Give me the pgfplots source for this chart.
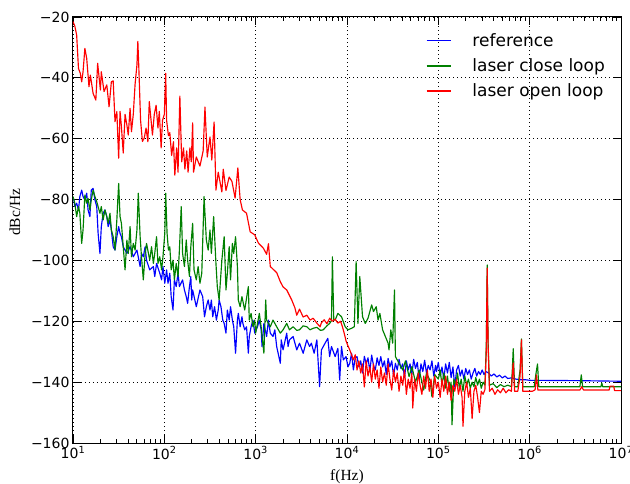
\documentclass[border=0pt]{standalone}
\usepackage{fontspec}
\usepackage{pgfplots}
\pgfplotsset{compat=1.18}
\newfontfamily\dejavu{DejaVu Sans}
\newfontfamily\libserif{Liberation Serif}
\pgfplotsset{
  short line legend/.style={
    legend image code/.code={\draw[line width=1.5pt,##1] (0pt,0pt) -- (24pt,0pt);}},
}

\begin{document}
\begin{tikzpicture}
\begin{axis}[
  scale only axis, width=548pt, height=426pt,
  xmin=1, xmax=7, ymin=-160, ymax=-20,
  xtick={1,2,3,4,5,6,7},
  xticklabels={10\textsuperscript{1},10\textsuperscript{2},10\textsuperscript{3},10\textsuperscript{4},10\textsuperscript{5},10\textsuperscript{6},10\textsuperscript{7}},
  minor xtick={1.301,1.477,1.602,1.699,1.778,1.845,1.903,1.954,
               2.301,2.477,2.602,2.699,2.778,2.845,2.903,2.954,
               3.301,3.477,3.602,3.699,3.778,3.845,3.903,3.954,
               4.301,4.477,4.602,4.699,4.778,4.845,4.903,4.954,
               5.301,5.477,5.602,5.699,5.778,5.845,5.903,5.954,
               6.301,6.477,6.602,6.699,6.778,6.845,6.903,6.954},
  ytick={-160,-140,-120,-100,-80,-60,-40,-20},
  yticklabels={−160,−140,−120,−100,−80,−60,−40,−20},
  tick align=inside,
  major tick length=8pt, minor tick length=4pt,
  every tick/.style={black, line width=0.8pt},
  grid=major,
  major grid style={black, line width=0.8pt, dash pattern=on 1pt off 3pt},
  axis line style={line width=1pt},
  tick label style={font=\dejavu\fontsize{14}{16}\selectfont},
  xlabel={f(Hz)}, ylabel={dBc/Hz},
  label style={font=\libserif\fontsize{15.5}{18}\selectfont},
  xlabel style={at={(axis description cs:0.5,-0.087)}, anchor=base},
  ylabel style={at={(axis description cs:-0.106,0.542)}, anchor=center},
  short line legend,
  legend style={draw=none, fill=none, at={(0.98,0.972)}, anchor=north east,
    font=\dejavu\fontsize{17}{20}\selectfont, legend cell align=left,
    row sep=7pt},
  /tikz/every odd column/.append style={column sep=19pt},
  every axis plot/.append style={line width=1.15pt, line join=round},
]
\addplot[color=blue] coordinates {
(1.00,-79.5)(1.01,-80.1)(1.02,-82.3)(1.04,-81.2)(1.06,-83.4)(1.075,-79.0)(1.095,-76.9)(1.11,-79.0)(1.13,-80.1)(1.15,-77.9)
(1.165,-83.4)(1.185,-85.6)(1.20,-76.9)(1.22,-76.3)(1.24,-80.1)(1.26,-82.3)(1.275,-91.1)(1.295,-97.7)(1.31,-88.9)(1.33,-84.5)
(1.35,-83.4)(1.37,-85.6)(1.385,-88.9)(1.405,-86.7)(1.42,-90.0)(1.44,-95.5)(1.46,-96.6)(1.48,-92.2)(1.50,-88.9)(1.515,-91.1)
(1.53,-92.2)(1.55,-95.5)(1.57,-96.6)(1.59,-97.7)(1.625,-95.5)(1.66,-98.8)(1.70,-96.6)(1.735,-102.0)(1.75,-97.7)(1.77,-98.8)
(1.79,-95.5)(1.805,-99.9)(1.84,-103.1)(1.88,-102.0)(1.895,-105.3)(1.915,-101.0)(1.95,-104.2)(1.97,-106.4)(1.985,-102.0)(2.005,-107.5)
(2.025,-103.1)(2.04,-107.5)(2.06,-104.2)(2.075,-111.9)(2.095,-116.3)(2.11,-106.4)(2.13,-108.6)(2.15,-104.2)(2.165,-108.6)(2.20,-106.4)
(2.22,-109.7)(2.24,-111.9)(2.255,-114.1)(2.275,-108.6)(2.29,-105.3)(2.30,-113.0)(2.31,-109.7)(2.35,-115.2)(2.39,-109.7)(2.42,-111.9)
(2.44,-118.5)(2.46,-115.2)(2.48,-113.0)(2.50,-116.3)(2.515,-113.0)(2.53,-118.5)(2.55,-115.2)(2.57,-119.6)(2.59,-116.3)(2.60,-113.0)
(2.62,-115.2)(2.64,-119.6)(2.655,-120.7)(2.675,-123.9)(2.69,-116.3)(2.71,-119.6)(2.725,-115.2)(2.745,-119.6)(2.76,-121.8)(2.78,-130.5)
(2.80,-119.6)(2.81,-117.4)(2.83,-121.8)(2.85,-118.5)(2.86,-120.7)(2.88,-122.8)(2.90,-121.8)(2.92,-130.5)(2.93,-125.0)(2.95,-121.8)
(2.97,-119.6)(2.99,-123.9)(3.02,-121.8)(3.04,-119.6)(3.06,-122.8)(3.07,-128.3)(3.09,-120.7)(3.12,-125.0)(3.14,-119.6)(3.16,-123.9)
(3.19,-125.0)(3.21,-122.8)(3.23,-128.3)(3.27,-133.8)(3.28,-126.1)(3.30,-129.4)(3.34,-123.9)(3.355,-128.3)(3.37,-126.1)(3.41,-125.0)
(3.45,-129.4)(3.48,-127.2)(3.52,-130.5)(3.56,-126.1)(3.59,-128.3)(3.61,-127.2)(3.64,-130.5)(3.67,-126.1)(3.70,-141.5)(3.72,-129.4)
(3.76,-127.2)(3.79,-125.6)(3.81,-131.6)(3.83,-128.3)(3.87,-131.6)(3.90,-128.9)(3.92,-139.3)(3.94,-128.3)(3.96,-132.7)(3.99,-131.6)
(4.01,-135.0)(4.03,-133.8)(4.05,-130.5)(4.07,-136.0)(4.09,-132.0)(4.11,-131.6)(4.13,-135.0)(4.15,-133.0)(4.17,-137.0)(4.19,-131.5)
(4.21,-134.0)(4.23,-132.0)(4.25,-136.5)(4.27,-131.1)(4.29,-134.5)(4.31,-136.0)(4.33,-132.0)(4.35,-134.5)(4.37,-131.6)(4.39,-135.0)
(4.41,-133.0)(4.43,-137.5)(4.45,-132.2)(4.47,-135.0)(4.49,-133.0)(4.51,-138.0)(4.53,-133.8)(4.55,-136.0)(4.57,-132.5)(4.59,-135.5)
(4.61,-134.0)(4.63,-138.5)(4.65,-133.0)(4.67,-136.0)(4.69,-134.0)(4.71,-137.5)(4.73,-132.5)(4.75,-135.5)(4.77,-133.5)(4.79,-139.0)
(4.81,-134.0)(4.83,-136.5)(4.85,-132.8)(4.87,-137.0)(4.89,-134.5)(4.91,-136.0)(4.93,-133.0)(4.95,-138.0)(4.97,-134.5)(4.98,-136.5)
(5.00,-133.5)(5.02,-138.0)(5.04,-135.0)(5.06,-139.0)(5.08,-134.0)(5.10,-137.0)(5.12,-133.5)(5.14,-138.5)(5.16,-135.0)(5.18,-141.6)
(5.20,-136.0)(5.22,-134.5)(5.24,-138.0)(5.26,-136.0)(5.28,-139.0)(5.30,-135.5)(5.32,-137.5)(5.34,-136.0)(5.36,-139.0)(5.38,-137.0)
(5.40,-135.5)(5.42,-138.0)(5.44,-136.5)(5.46,-137.5)(5.48,-136.0)(5.50,-137.5)(5.52,-136.5)(5.55,-137.0)(5.58,-138.0)(5.61,-137.3)
(5.64,-138.3)(5.67,-137.7)(5.70,-138.6)(5.73,-138.0)(5.76,-138.8)(5.80,-138.6)(5.85,-139.0)(5.90,-139.2)(5.95,-139.2)(6.00,-139.4)
(6.50,-139.5)(7.00,-139.7)
};
\addlegendentry{reference}
\addplot[color={rgb,1:red,0;green,0.5;blue,0}] coordinates {
(1.00,-79.0)(1.02,-81.2)(1.04,-85.6)(1.06,-82.3)(1.075,-84.5)(1.095,-94.4)(1.11,-90.0)(1.13,-78.5)(1.15,-81.2)(1.165,-79.6)
(1.185,-83.4)(1.20,-80.1)(1.22,-76.9)(1.24,-79.0)(1.26,-80.7)(1.295,-84.5)(1.31,-82.3)(1.33,-86.7)(1.35,-83.4)(1.37,-85.6)
(1.385,-87.8)(1.405,-84.5)(1.42,-90.0)(1.44,-92.2)(1.46,-96.6)(1.48,-86.7)(1.50,-74.7)(1.515,-85.6)(1.53,-87.8)(1.55,-95.5)
(1.57,-103.1)(1.59,-93.3)(1.605,-97.7)(1.625,-88.9)(1.64,-98.8)(1.66,-94.4)(1.68,-96.6)(1.70,-90.0)(1.715,-77.9)(1.735,-92.2)
(1.75,-98.8)(1.77,-106.4)(1.79,-97.7)(1.805,-94.4)(1.84,-99.9)(1.86,-95.5)(1.88,-101.0)(1.895,-97.7)(1.915,-92.2)(1.93,-101.0)
(1.95,-98.8)(1.97,-103.1)(1.985,-98.8)(2.005,-91.1)(2.015,-77.9)(2.03,-91.1)(2.045,-96.6)(2.06,-95.5)(2.075,-103.1)(2.095,-99.9)
(2.11,-106.4)(2.13,-101.0)(2.15,-105.3)(2.165,-96.6)(2.185,-82.3)(2.20,-97.7)(2.22,-102.0)(2.24,-93.3)(2.255,-99.9)(2.275,-105.3)
(2.29,-95.5)(2.31,-87.8)(2.325,-103.1)(2.35,-106.4)(2.37,-102.0)(2.39,-107.5)(2.41,-104.2)(2.435,-79.0)(2.46,-93.3)(2.48,-96.6)
(2.50,-90.0)(2.515,-97.7)(2.54,-85.6)(2.565,-100.9)(2.58,-108.6)(2.60,-113.0)(2.615,-106.4)(2.63,-99.9)(2.655,-92.2)(2.675,-109.7)
(2.69,-104.2)(2.71,-95.5)(2.725,-106.4)(2.745,-94.4)(2.76,-97.7)(2.78,-92.2)(2.80,-102.0)(2.81,-113.0)(2.83,-115.2)(2.85,-111.9)
(2.88,-116.3)(2.92,-108.6)(2.93,-119.6)(2.95,-117.4)(2.97,-121.8)(2.99,-119.6)(3.00,-123.9)(3.02,-120.7)(3.04,-117.4)(3.06,-121.8)
(3.09,-130.5)(3.11,-113.0)(3.12,-119.6)(3.16,-121.8)(3.19,-119.6)(3.23,-121.8)(3.27,-123.9)(3.30,-122.8)(3.34,-120.7)(3.37,-122.8)
(3.41,-121.8)(3.45,-123.0)(3.48,-122.8)(3.52,-121.5)(3.56,-121.8)(3.595,-122.8)(3.63,-122.3)(3.67,-122.0)(3.71,-123.0)(3.74,-122.8)
(3.78,-121.5)(3.81,-120.7)(3.83,-119.8)(3.84,-98.8)(3.855,-119.5)(3.87,-119.6)(3.90,-117.4)(3.94,-118.5)(3.98,-121.8)(4.01,-122.8)
(4.05,-122.3)(4.08,-121.8)(4.10,-100.4)(4.12,-120.7)(4.14,-105.3)(4.17,-118.5)(4.20,-120.7)(4.23,-119.0)(4.27,-114.6)(4.29,-116.8)
(4.32,-115.2)(4.34,-119.6)(4.36,-117.4)(4.39,-122.8)(4.42,-125.0)(4.45,-127.2)(4.46,-129.4)(4.48,-122.8)(4.50,-127.2)(4.52,-109.7)
(4.53,-131.6)(4.57,-133.8)(4.61,-136.0)(4.64,-133.0)(4.68,-138.2)(4.71,-134.9)(4.75,-140.0)(4.79,-136.0)(4.84,-142.6)(4.87,-137.0)
(4.91,-139.5)(4.93,-144.8)(4.96,-137.5)(5.00,-139.0)(5.02,-136.0)(5.04,-141.0)(5.06,-137.0)(5.08,-142.0)(5.10,-138.0)(5.12,-143.0)
(5.14,-140.0)(5.15,-154.0)(5.17,-139.0)(5.19,-141.0)(5.21,-137.0)(5.23,-142.0)(5.25,-139.0)(5.27,-143.0)(5.29,-138.0)(5.31,-141.0)
(5.33,-139.0)(5.35,-142.0)(5.37,-140.0)(5.39,-141.5)(5.41,-138.5)(5.43,-141.0)(5.45,-139.0)(5.47,-142.0)(5.49,-140.0)(5.51,-141.0)
(5.525,-128.0)(5.535,-101.5)(5.545,-127.0)(5.56,-141.0)(5.60,-140.5)(5.64,-141.8)(5.68,-140.8)(5.72,-141.5)(5.76,-141.0)(5.80,-141.5)
(5.81,-136.0)(5.82,-129.0)(5.835,-141.5)(5.87,-141.5)(5.895,-136.0)(5.91,-125.8)(5.925,-141.5)(6.05,-141.5)(6.07,-137.0)(6.086,-134.0)
(6.10,-141.5)(6.55,-141.5)(6.565,-137.6)(6.58,-141.5)(6.78,-141.5)(6.79,-140.3)(6.80,-141.5)(7.00,-141.5)
};
\addlegendentry{laser close loop}
\addplot[color=red] coordinates {
(1.00,-21.5)(1.02,-23.0)(1.04,-25.9)(1.06,-36.9)(1.08,-38.5)(1.095,-41.3)(1.11,-38.0)(1.13,-30.3)(1.15,-33.6)(1.175,-42.9)
(1.19,-39.1)(1.22,-45.1)(1.25,-47.3)(1.27,-35.2)(1.30,-44.0)(1.31,-38.0)(1.34,-44.5)(1.37,-42.3)(1.395,-49.5)(1.42,-41.3)
(1.44,-41.0)(1.46,-54.4)(1.48,-51.1)(1.50,-66.4)(1.515,-51.0)(1.53,-56.0)(1.55,-64.7)(1.57,-52.0)(1.59,-55.5)(1.605,-58.8)
(1.625,-50.0)(1.64,-57.7)(1.66,-52.0)(1.68,-42.0)(1.70,-35.8)(1.71,-28.0)(1.72,-36.0)(1.74,-54.0)(1.76,-60.9)(1.78,-59.8)
(1.80,-56.5)(1.82,-61.0)(1.835,-47.8)(1.855,-54.0)(1.87,-58.8)(1.89,-52.0)(1.91,-49.0)(1.93,-56.5)(1.945,-51.0)(1.965,-63.0)
(1.98,-54.0)(2.00,-52.0)(2.015,-38.5)(2.025,-54.0)(2.045,-59.0)(2.06,-58.0)(2.08,-65.5)(2.10,-61.0)(2.115,-72.0)(2.135,-63.0)
(2.15,-71.0)(2.17,-46.0)(2.19,-67.6)(2.21,-63.0)(2.225,-70.0)(2.245,-64.0)(2.26,-71.0)(2.28,-63.0)(2.295,-67.6)(2.31,-54.8)
(2.32,-71.0)(2.35,-66.0)(2.39,-69.0)(2.425,-64.0)(2.445,-49.6)(2.47,-66.0)(2.50,-59.4)(2.52,-67.0)(2.545,-54.5)(2.565,-76.9)
(2.59,-71.0)(2.63,-77.5)(2.645,-70.0)(2.675,-77.0)(2.71,-72.6)(2.74,-74.0)(2.775,-79.5)(2.805,-69.6)(2.83,-80.0)(2.855,-83.4)
(2.90,-84.5)(2.94,-90.6)(2.99,-91.6)(3.03,-94.3)(3.085,-96.0)(3.12,-98.0)(3.14,-94.5)(3.16,-102.0)(3.23,-104.0)(3.27,-107.0)
(3.30,-108.7)(3.34,-109.7)(3.395,-113.0)(3.43,-115.6)(3.45,-118.0)(3.48,-116.0)(3.52,-118.6)(3.56,-118.0)(3.595,-119.6)(3.63,-119.0)
(3.67,-120.6)(3.705,-121.8)(3.72,-120.5)(3.75,-119.5)(3.78,-120.8)(3.81,-119.0)(3.84,-120.0)(3.87,-119.3)(3.90,-120.6)(3.93,-120.0)
(3.95,-121.8)(3.97,-124.0)(3.99,-126.5)(4.01,-128.0)(4.03,-129.4)(4.05,-131.0)(4.07,-132.7)(4.09,-131.0)(4.11,-136.0)(4.13,-133.0)
(4.15,-137.0)(4.17,-134.0)(4.19,-141.6)(4.21,-133.0)(4.23,-138.0)(4.25,-135.0)(4.27,-140.0)(4.29,-134.0)(4.31,-139.0)(4.33,-136.0)
(4.35,-142.0)(4.37,-135.0)(4.39,-140.0)(4.41,-137.0)(4.43,-141.0)(4.45,-134.0)(4.47,-139.0)(4.49,-142.6)(4.51,-136.0)(4.53,-140.0)
(4.55,-137.0)(4.57,-143.0)(4.59,-138.0)(4.61,-141.0)(4.63,-136.0)(4.65,-144.0)(4.67,-139.0)(4.69,-142.0)(4.71,-137.0)(4.72,-148.5)
(4.74,-139.0)(4.76,-143.0)(4.78,-137.0)(4.80,-141.0)(4.82,-144.0)(4.84,-138.0)(4.86,-142.0)(4.88,-136.0)(4.90,-143.0)(4.92,-139.0)
(4.94,-145.0)(4.96,-138.0)(4.98,-142.0)(5.00,-140.0)(5.02,-145.0)(5.04,-139.0)(5.06,-143.0)(5.08,-138.0)(5.10,-144.0)(5.12,-140.0)
(5.14,-146.0)(5.16,-141.0)(5.18,-143.0)(5.20,-139.0)(5.22,-144.0)(5.24,-141.0)(5.26,-145.0)(5.27,-154.5)(5.29,-143.0)(5.31,-140.0)
(5.33,-145.0)(5.35,-142.0)(5.37,-152.0)(5.39,-143.0)(5.41,-141.0)(5.43,-145.0)(5.45,-150.0)(5.47,-143.0)(5.49,-144.0)(5.51,-142.5)
(5.525,-130.0)(5.535,-102.5)(5.545,-128.0)(5.56,-143.0)(5.59,-142.0)(5.62,-144.0)(5.65,-142.5)(5.68,-143.5)(5.71,-142.0)(5.74,-143.5)
(5.77,-142.5)(5.80,-143.0)(5.81,-138.0)(5.82,-133.7)(5.835,-143.0)(5.87,-143.0)(5.895,-138.0)(5.91,-126.1)(5.925,-143.0)(5.97,-143.0)
(6.03,-143.0)(6.06,-142.5)(6.075,-137.6)(6.09,-142.6)(6.30,-142.6)(6.55,-142.6)(6.57,-141.5)(6.59,-142.6)(6.87,-142.6)(6.88,-141.3)
(6.92,-141.3)(6.93,-142.8)(7.00,-142.8)
};
\addlegendentry{laser open loop}
\end{axis}
\pgfresetboundingbox
\path (-73pt,-40pt) rectangle (557pt,443pt);
\end{tikzpicture}
\end{document}
